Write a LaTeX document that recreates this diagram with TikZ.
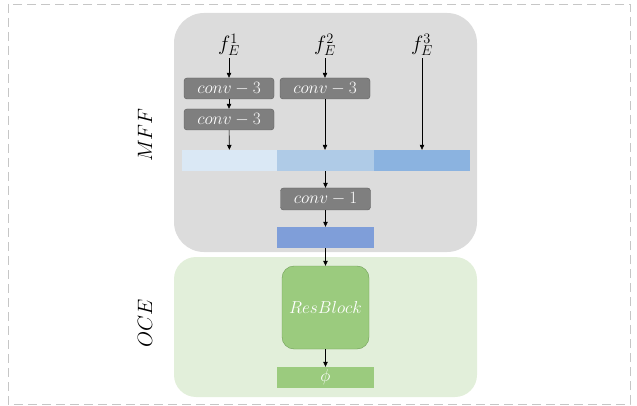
\documentclass[tikz,border=0pt]{standalone}
\usetikzlibrary{arrows.meta}
\definecolor{mffgray}{HTML}{DCDCDC}
\definecolor{ocegreen}{HTML}{E2EFDA}
\definecolor{convgray}{HTML}{7F7F7F}
\definecolor{convedge}{HTML}{5E5E5E}
\definecolor{segone}{HTML}{DAE8F5}
\definecolor{segtwo}{HTML}{AFCBE7}
\definecolor{segthree}{HTML}{8BB3E0}
\definecolor{fusedblue}{HTML}{7F9ED9}
\definecolor{resgreen}{HTML}{9BCB7E}
\definecolor{resedge}{HTML}{6E9E56}
\begin{document}
\begin{tikzpicture}[x=1pt,y=-1pt,
  feat/.style={inner sep=2pt,font=\fontsize{20}{22}\selectfont},
  conv/.style={draw=convedge,fill=convgray,rounded corners=3pt,minimum width=90pt,minimum height=21pt,inner sep=0pt,text=white,font=\fontsize{17.5}{19}\selectfont},
  seg/.style={minimum height=21pt,inner sep=0pt},
  side/.style={rotate=90,font=\fontsize{20}{22}\selectfont},
  arr/.style={-{Triangle[length=5pt,width=4.5pt]},line width=0.6pt}]
\useasboundingbox (0,0) rectangle (637,406);
\draw[gray!45,dash pattern=on 9pt off 5pt,line width=0.8pt] (8,4) rectangle (630,404);
% the two stages
\fill[mffgray,rounded corners=30pt] (174,13) rectangle (477,252);
\fill[ocegreen,rounded corners=22pt] (174,257) rectangle (477,397);
\node[side] (mff) at (145,135) {$MFF$};
\node[side] (oce) at (145,323) {$OCE$};
% encoder features
\node[feat] (f1) at (229,45) {$f_E^1$};
\node[feat] (f2) at (325,45) {$f_E^2$};
\node[feat] (f3) at (422,45) {$f_E^3$};
\node[conv] (c11) at (229,88.5) {$conv-3$};
\node[conv] (c12) at (229,119.5) {$conv-3$};
\node[conv] (c21) at (325,88.5) {$conv-3$};
% concatenated bar
\node[seg,fill=segone,minimum width=95pt] (s1) at (229.5,160.5) {};
\node[seg,fill=segtwo,minimum width=97pt] (s2) at (325.5,160.5) {};
\node[seg,fill=segthree,minimum width=96pt] (s3) at (422,160.5) {};
\node[conv,minimum height=22pt] (c3) at (325.5,199) {$conv-1$};
\node[seg,fill=fusedblue,minimum width=97pt] (fb) at (325.5,237.5) {};
\node[draw=resedge,fill=resgreen,rounded corners=12pt,minimum width=87pt,minimum height=83pt,text=white,font=\fontsize{16}{18}\selectfont] (rb) at (325.5,307.5) {$ResBlock$};
\node[seg,fill=resgreen,minimum width=97pt,text=white,font=\fontsize{17.5}{19}\selectfont] (phi) at (325.5,377.5) {$\phi$};
\draw[arr] (f1) -- (c11);
\draw[arr] (c11) -- (c12);
\draw[arr] (c12) -- (s1);
\draw[arr] (f2) -- (c21);
\draw[arr] (c21) -- (c21 |- s2.north);
\draw[arr] (f3) -- (s3);
\draw[arr] (s2) -- (c3);
\draw[arr] (c3) -- (fb);
\draw[arr] (fb) -- (rb);
\draw[arr] (rb) -- (phi);
\end{tikzpicture}
\end{document}
